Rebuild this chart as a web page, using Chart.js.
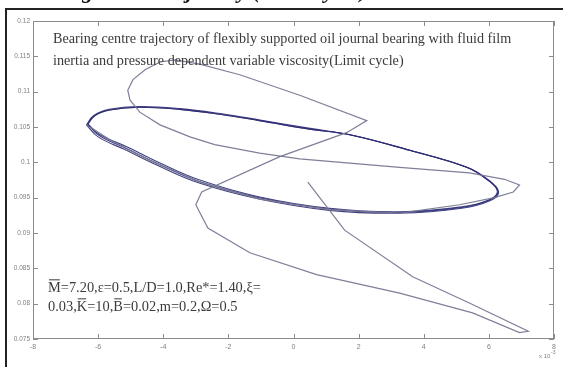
<!DOCTYPE html>
<html>
<head>
<meta charset="utf-8">
<script src="https://cdn.jsdelivr.net/npm/chart.js@4.4.1/dist/chart.umd.min.js"></script>
<style>
  html, body { margin: 0; padding: 0; background: #fff; }
  #wrap { width: 563px; height: 367px; }
</style>
</head>
<body>
<div id="wrap"><canvas id="trajChart" width="563" height="367"></canvas></div>
<script>
// axis ticks (x in units of 1e-3)
const xTicks = [-8, -6, -4, -2, 0, 2, 4, 6, 8];
const yTicks = [0.075, 0.08, 0.085, 0.09, 0.095, 0.1, 0.105, 0.11, 0.115, 0.12];

// transient path of the journal centre before it settles
const transientX = [0.44, 1.57, 3.66, 5.40, 7.21, 6.94, 5.50, 3.26, 0.71, -1.34, -2.63, -3.00, -2.82, -0.42, 1.63,
    2.25, 0.19, -1.65, -2.88, -3.64, -4.10, -4.56, -4.93, -5.09, -5.02, -4.72, -4.10, -3.18, -2.42, -1.04,
    0.19, 3.26, 5.40, 6.48, 6.94, 6.75, 6.17, 5.10, 3.26, 1.11, -1.04, -2.88, -4.41, -5.64, -6.25];
const transientY = [0.0972, 0.0904, 0.0838, 0.0801, 0.0761, 0.0759, 0.0787, 0.0815, 0.0841, 0.0872, 0.0907, 0.0940, 0.0958, 0.1008, 0.1042,
    0.1059, 0.1095, 0.1124, 0.1139, 0.1145, 0.1142, 0.1131, 0.1117, 0.1102, 0.1088, 0.1071, 0.1053, 0.1036, 0.1025, 0.1013,
    0.1005, 0.0993, 0.0985, 0.0976, 0.0968, 0.0958, 0.0950, 0.0940, 0.0928, 0.0933, 0.0948, 0.0972, 0.1003, 0.1032, 0.1050];

// limit cycle, successive orbits
const cycle1X = [-6.36, -6.14, -5.66, -4.72, -3.48, -2.25, -1.03, 0.51, 1.74, 3.58, 5.33, 5.99, 6.30, 6.05, 5.17, 3.25, 1.10, -1.06, -2.92, -4.15, -5.18, -6.00, -6.36];
const cycle1Y = [0.1053, 0.1066, 0.1075, 0.1079, 0.1076, 0.1069, 0.1060, 0.1048, 0.1039, 0.1017, 0.0993, 0.0975, 0.0958, 0.0946, 0.0935, 0.0928, 0.0932, 0.0948, 0.0971, 0.0995, 0.1018, 0.1036, 0.1053];
const cycle2X = [-6.33, -6.12, -5.65, -4.72, -3.49, -2.26, -1.04, 0.50, 1.73, 3.57, 5.32, 5.97, 6.28, 6.03, 5.16, 3.26, 1.11, -1.05, -2.90, -4.12, -5.15, -5.97, -6.33];
const cycle2Y = [0.1054, 0.1066, 0.1074, 0.1078, 0.1075, 0.1068, 0.1059, 0.1047, 0.1039, 0.1017, 0.0993, 0.0975, 0.0959, 0.0947, 0.0936, 0.0929, 0.0934, 0.0950, 0.0973, 0.0997, 0.1020, 0.1038, 0.1054];
const cycle3X = [-6.31, -6.10, -5.64, -4.72, -3.49, -2.26, -1.04, 0.50, 1.72, 3.56, 5.31, 5.96, 6.26, 6.02, 5.16, 3.26, 1.11, -1.04, -2.88, -4.10, -5.12, -5.94, -6.31];
const cycle3Y = [0.1054, 0.1066, 0.1074, 0.1078, 0.1075, 0.1068, 0.1059, 0.1047, 0.1039, 0.1017, 0.0993, 0.0975, 0.0959, 0.0947, 0.0937, 0.0930, 0.0935, 0.0951, 0.0975, 0.0999, 0.1022, 0.1039, 0.1054];

const pts = (xs, ys) => xs.map((x, i) => ({ x: x, y: ys[i] }));

const serif = '"Liberation Serif", "Times New Roman", serif';
const sans = '"Liberation Sans", Arial, sans-serif';
const axisGrey = '#8c8c8c';
const tickGrey = '#808080';
const textGrey = '#3a3a3a';
const pathGrey = 'rgba(120,120,148,0.95)';
const cycleBlue = 'rgba(46,46,118,0.9)';

// text with an overbar on chosen pieces
function drawBarred(ctx, parts, x, y, size) {
    let cx = x;
    parts.forEach(function (p) {
        const w = ctx.measureText(p[0]).width;
        ctx.fillText(p[0], cx, y);
        if (p[1]) {
            ctx.fillRect(cx + 1, y - size * 0.88, w - 2, 1);
        }
        cx += w;
    });
}

const decorations = {
    id: 'decorations',
    afterDraw(chart) {
        const ctx = chart.ctx;
        const a = chart.chartArea;
        const xs = chart.scales.x, ys = chart.scales.y;
        ctx.save();

        // plot box
        ctx.strokeStyle = axisGrey;
        ctx.lineWidth = 1;
        ctx.strokeRect(a.left + 0.5, a.top + 0.5, a.right - a.left - 1, a.bottom - a.top - 1);

        // inward ticks on all four sides
        ctx.beginPath();
        xTicks.forEach(function (v) {
            const px = Math.round(xs.getPixelForValue(v)) + 0.5;
            ctx.moveTo(px, a.bottom); ctx.lineTo(px, a.bottom - 5);
            ctx.moveTo(px, a.top); ctx.lineTo(px, a.top + 5);
        });
        yTicks.forEach(function (v) {
            const py = Math.round(ys.getPixelForValue(v)) + 0.5;
            ctx.moveTo(a.left, py); ctx.lineTo(a.left + 5, py);
            ctx.moveTo(a.right, py); ctx.lineTo(a.right - 5, py);
        });
        ctx.stroke();

        // exponent label
        ctx.fillStyle = tickGrey;
        ctx.font = '6px ' + sans;
        ctx.textAlign = 'left';
        ctx.textBaseline = 'alphabetic';
        ctx.fillText('x 10', 539, 358);
        ctx.font = '5px ' + sans;
        ctx.fillText('-3', 551, 354);

        // title inside the axes
        ctx.fillStyle = textGrey;
        ctx.font = '14.2px ' + serif;
        ctx.fillText('Bearing centre trajectory of flexibly supported oil journal bearing with fluid film', 53, 43);
        ctx.fillText('inertia and pressure dependent variable viscosity(Limit cycle)', 53, 65);

        // parameter block
        ctx.font = '14.4px ' + serif;
        drawBarred(ctx, [['M', true], ['=7.20,\u03b5=0.5,L/D=1.0,Re*=1.40,\u03be=', false]], 48, 292, 14.4);
        drawBarred(ctx, [['0.03,', false], ['K', true], ['=10,', false], ['B', true], ['=0.02,m=0.2,\u03a9=0.5', false]], 48, 311, 14.4);

        // figure frame and caption cut by the top edge
        ctx.strokeStyle = '#222';
        ctx.lineWidth = 2;
        ctx.beginPath();
        ctx.moveTo(6, 367); ctx.lineTo(6, 9); ctx.lineTo(563, 9);
        ctx.stroke();
        ctx.fillStyle = '#111';
        ctx.font = 'italic bold 22px ' + serif;
        ctx.fillText('Bearing centre trajectory (Limit cycle)', 20, -2);

        ctx.restore();
    }
};

new Chart(document.getElementById('trajChart').getContext('2d'), {
    type: 'scatter',
    data: {
        datasets: [
            { data: pts(transientX, transientY), showLine: true, borderColor: pathGrey, borderWidth: 1.2, tension: 0, pointRadius: 0 },
            { data: pts(cycle1X, cycle1Y), showLine: true, borderColor: cycleBlue, borderWidth: 1.1, tension: 0.4, pointRadius: 0 },
            { data: pts(cycle2X, cycle2Y), showLine: true, borderColor: cycleBlue, borderWidth: 1.1, tension: 0.4, pointRadius: 0 },
            { data: pts(cycle3X, cycle3Y), showLine: true, borderColor: cycleBlue, borderWidth: 1.1, tension: 0.4, pointRadius: 0 }
        ]
    },
    options: {
        responsive: false,
        animation: false,
        devicePixelRatio: 1,
        layout: { padding: { left: 0, top: 21, right: 9, bottom: 0 } },
        plugins: { legend: { display: false }, tooltip: { enabled: false } },
        scales: {
            x: {
                type: 'linear', min: -8, max: 8,
                border: { display: false },
                grid: { display: false, drawTicks: false },
                afterBuildTicks: function (s) { s.ticks = xTicks.map(v => ({ value: v })); },
                afterFit: function (s) { s.height = 28; },
                ticks: { color: tickGrey, font: { family: sans, size: 7 }, padding: 4, maxRotation: 0, callback: v => String(v) }
            },
            y: {
                type: 'linear', min: 0.075, max: 0.12,
                border: { display: false },
                grid: { display: false, drawTicks: false },
                afterBuildTicks: function (s) { s.ticks = yTicks.map(v => ({ value: v })); },
                afterFit: function (s) { s.width = 33; },
                ticks: { color: tickGrey, font: { family: sans, size: 6.5 }, padding: 3, callback: v => String(v) }
            }
        }
    },
    plugins: [decorations]
});
</script>
</body>
</html>
